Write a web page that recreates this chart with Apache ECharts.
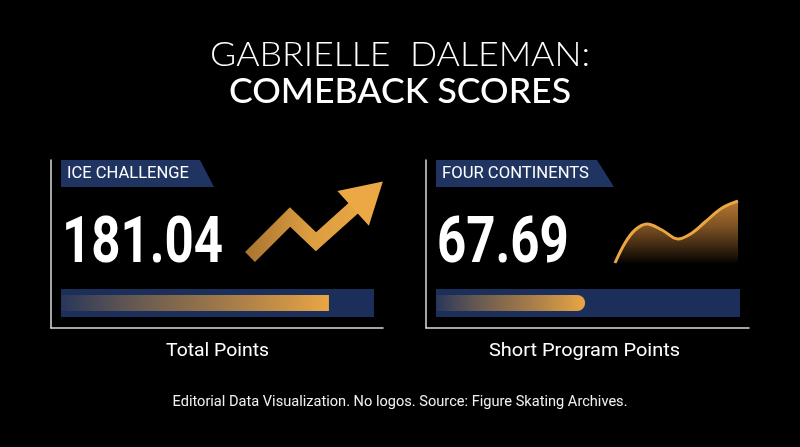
<!DOCTYPE html>
<html>
<head>
<meta charset="utf-8">
<script src="https://cdn.jsdelivr.net/npm/echarts@6/dist/echarts.min.js"></script>
<style>
html,body{margin:0;padding:0;background:#000;}
#chart{width:800px;height:447px;}
</style>
</head>
<body>
<div id="chart"></div>
<script>
// ---- data ----
const titleLines = ['GABRIELLE  DALEMAN:', 'COMEBACK SCORES'];
const competitions = ['ICE CHALLENGE', 'FOUR CONTINENTS'];
const metrics = ['Total Points', 'Short Program Points'];
const scores = [181.04, 67.69];
const barScaleMax = [211.5, 138];
const arrowX = [0, 1, 1.65, 2.95];
const arrowY = [0, 1, 0.38, 1.55];
const curveX = [0, 10, 20, 32, 47, 63, 77, 90, 107, 123];
const curveY = [0, 20, 33, 39, 33, 24, 30, 41, 55, 62];
const footnote = 'Editorial Data Visualization. No logos. Source: Figure Skating Archives.';

// ---- helpers ----
const mctx = document.createElement('canvas').getContext('2d');
function fit(text, font, target) {
  mctx.font = font;
  const w = mctx.measureText(text).width;
  return w > 0 ? target / w : 1;
}
function fitText(text, x, y, align, weight, size, family, target, color) {
  const font = weight + ' ' + size + 'px ' + family;
  return {
    type: 'text', x: x, y: y, originX: 0, originY: 0,
    scaleX: fit(text, font, target), silent: true,
    style: {
      text: text, fill: color || '#fff', font: font,
      textAlign: align, textVerticalAlign: 'middle'
    }
  };
}

const GOLD = '#EBA644';
const NAVY = '#1F3461';
const TRACK = '#1C2F5B';
const LINE = '#dcdcdc';

const chart = echarts.init(document.getElementById('chart'), null, {renderer: 'canvas'});

const frameAxis = (gi) => ({
  gridIndex: gi, type: 'value', min: 0, max: 1,
  axisLine: {show: true, onZero: false, lineStyle: {color: LINE, width: 1.5}},
  axisTick: {show: false}, axisLabel: {show: false}, splitLine: {show: false}
});
const hiddenVal = (gi, max) => ({gridIndex: gi, type: 'value', min: 0, max: max, show: false, splitLine: {show: false}});

const barGradient = () => new echarts.graphic.LinearGradient(0, 0, 1, 0, [
  {offset: 0, color: 'rgba(235,166,68,0.06)'},
  {offset: 0.45, color: 'rgba(205,145,65,0.6)'},
  {offset: 1, color: GOLD}
]);

const numFont = 'bold 64px Roboto';
const numScale = fit(scores[0].toFixed(2), numFont, 161);

const option = {
  backgroundColor: '#000',
  animation: false,
  grid: [
    {left: 51, top: 160, width: 332, height: 168, containLabel: false},
    {left: 426, top: 160, width: 323, height: 168, containLabel: false},
    {left: 61, top: 289, width: 313, height: 28, show: true, backgroundColor: TRACK, borderWidth: 0, containLabel: false},
    {left: 436, top: 289, width: 304, height: 28, show: true, backgroundColor: TRACK, borderWidth: 0, containLabel: false},
    {left: 250, top: 195, width: 118, height: 62, containLabel: false},
    {left: 615, top: 201, width: 123, height: 62, containLabel: false}
  ],
  xAxis: [
    frameAxis(0), frameAxis(1),
    hiddenVal(2, barScaleMax[0]), hiddenVal(3, barScaleMax[1]),
    hiddenVal(4, arrowX[arrowX.length - 1]), hiddenVal(5, curveX[curveX.length - 1])
  ],
  yAxis: [
    frameAxis(0), frameAxis(1),
    {gridIndex: 2, type: 'category', data: [metrics[0]], show: false},
    {gridIndex: 3, type: 'category', data: [metrics[1]], show: false},
    hiddenVal(4, arrowY[arrowY.length - 1]), hiddenVal(5, curveY[curveY.length - 1])
  ],
  series: [
    {
      type: 'bar', xAxisIndex: 2, yAxisIndex: 2, data: [scores[0]], barWidth: 16, silent: true,
      itemStyle: {color: barGradient(), borderRadius: 0}
    },
    {
      type: 'bar', xAxisIndex: 3, yAxisIndex: 3, data: [scores[1]], barWidth: 16, silent: true,
      itemStyle: {color: barGradient(), borderRadius: [0, 8, 8, 0]}
    },
    {
      type: 'line', xAxisIndex: 4, yAxisIndex: 4, silent: true, symbol: 'none',
      data: arrowX.map((x, i) => i === arrowX.length - 1
        ? {value: [x, arrowY[i]], symbol: 'triangle', symbolSize: [47, 40], symbolRotate: -48}
        : [x, arrowY[i]]),
      showSymbol: true,
      itemStyle: {color: '#EBA845'},
      lineStyle: {
        width: 14, join: 'miter', cap: 'butt',
        color: new echarts.graphic.LinearGradient(0, 0, 1, 0, [
          {offset: 0, color: '#A67230'},
          {offset: 0.5, color: '#DC9D40'},
          {offset: 1, color: '#EBA845'}
        ])
      }
    },
    {
      type: 'line', xAxisIndex: 5, yAxisIndex: 5, silent: true, symbol: 'none', smooth: 0.35,
      data: curveX.map((x, i) => [x, curveY[i]]),
      lineStyle: {width: 3, color: GOLD},
      areaStyle: {
        opacity: 1,
        color: new echarts.graphic.LinearGradient(0, 0, 0, 1, [
          {offset: 0, color: '#B47832'},
          {offset: 0.4, color: '#7E5224'},
          {offset: 0.75, color: '#3A2610'},
          {offset: 1, color: '#050302'}
        ])
      }
    }
  ],
  graphic: [
    fitText(titleLines[0], 400, 55, 'center', 300, 33, 'Lato', 380),
    fitText(titleLines[1], 400, 92.5, 'center', 500, 34, 'Lato', 342),
    {type: 'polygon', silent: true, shape: {points: [[61, 160], [200, 160], [214, 187], [61, 187]]}, style: {fill: NAVY}},
    {type: 'polygon', silent: true, shape: {points: [[436, 160], [597, 160], [614, 187], [436, 187]]}, style: {fill: NAVY}},
    fitText(competitions[0], 67, 174, 'left', 400, 16, 'Roboto', 122),
    fitText(competitions[1], 442, 174, 'left', 400, 16, 'Roboto', 147),
    {type: 'text', x: 62, y: 246, originX: 0, originY: 0, scaleX: numScale, silent: true,
      style: {text: scores[0].toFixed(2), fill: '#fff', font: numFont, textAlign: 'left', textVerticalAlign: 'middle'}},
    {type: 'text', x: 437, y: 246, originX: 0, originY: 0, scaleX: numScale, silent: true,
      style: {text: scores[1].toFixed(2), fill: '#fff', font: numFont, textAlign: 'left', textVerticalAlign: 'middle'}},
    fitText(metrics[0], 217.5, 351, 'center', 400, 18, 'Roboto', 103),
    fitText(metrics[1], 584.5, 351, 'center', 400, 18, 'Roboto', 191),
    fitText(footnote, 400, 402, 'center', 400, 14, 'Roboto', 455, '#f0f0f0')
  ]
};
chart.setOption(option);
</script>
</body>
</html>
